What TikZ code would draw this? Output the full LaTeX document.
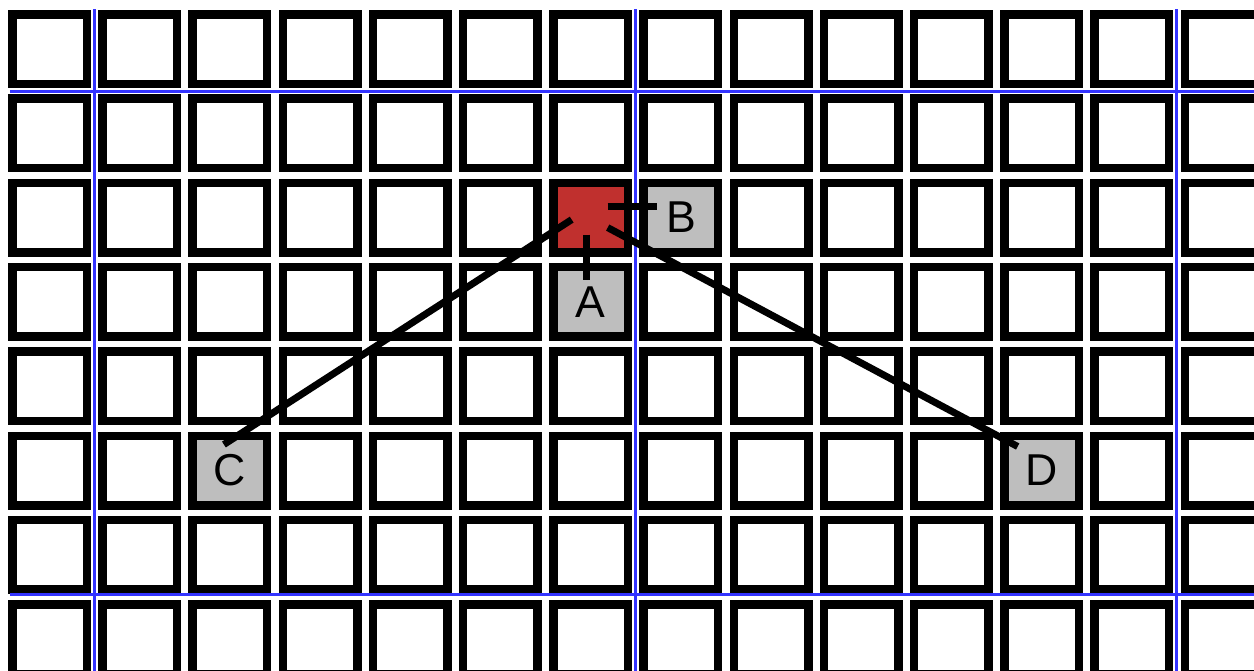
\documentclass[tikz,border=0pt]{standalone}
\usepackage{fontspec}
\setmainfont{Liberation Sans}
\usetikzlibrary{calc}

\definecolor{cellred}{RGB}{192,48,46}
\definecolor{cellgray}{RGB}{190,190,190}
\definecolor{gridblue}{RGB}{51,51,255}

\begin{document}
\begin{tikzpicture}[
  x=0.902cm,y=-0.843cm,
  cell/.style={draw, line width=0.085cm, fill=white, minimum width=0.745cm, minimum height=0.695cm, inner sep=0pt, font=\fontsize{12.7}{15}\selectfont},
  src/.style={cell, fill=cellred},
  hit/.style={cell, fill=cellgray},
  link/.style={line width=0.07cm},
  sector/.style={draw=gridblue, line width=0.03cm}
]
\useasboundingbox (-0.5488,-0.5813) rectangle (13.354,7.378);
\foreach \i in {0,...,13}
  \foreach \j in {0,...,7}
    \node[cell] (c-\i-\j) at (\i,\j) {};
\foreach \i in {0.5,6.5,12.5}
  \draw[sector] (\i,-0.4745) -- (\i,7.4);
\foreach \j in {0.5,6.47}
  \draw[sector] (-0.438,\j) -- (13.4,\j);
\node[src] (red) at (6,2) {};
\node[hit] (A) at (6,3) {A};
\node[hit] (B) at (7,2) {B};
\node[hit] (C) at (2,5) {C};
\node[hit] (D) at (11,5) {D};
\draw[link] ([xshift=-0.04cm,yshift=-0.17cm]red.center) -- ([xshift=-0.04cm,yshift=0.22cm]A.center);
\draw[link] ([xshift=0.17cm,yshift=0.11cm]red.center) -- ([xshift=-0.24cm,yshift=0.11cm]B.center);
\draw[link] ([xshift=-0.19cm,yshift=-0.02cm]red.center) -- ([xshift=-0.06cm,yshift=0.26cm]C.center);
\draw[link] ([xshift=0.17cm,yshift=-0.10cm]red.center) -- ([xshift=-0.24cm,yshift=0.24cm]D.center);
\end{tikzpicture}
\end{document}
